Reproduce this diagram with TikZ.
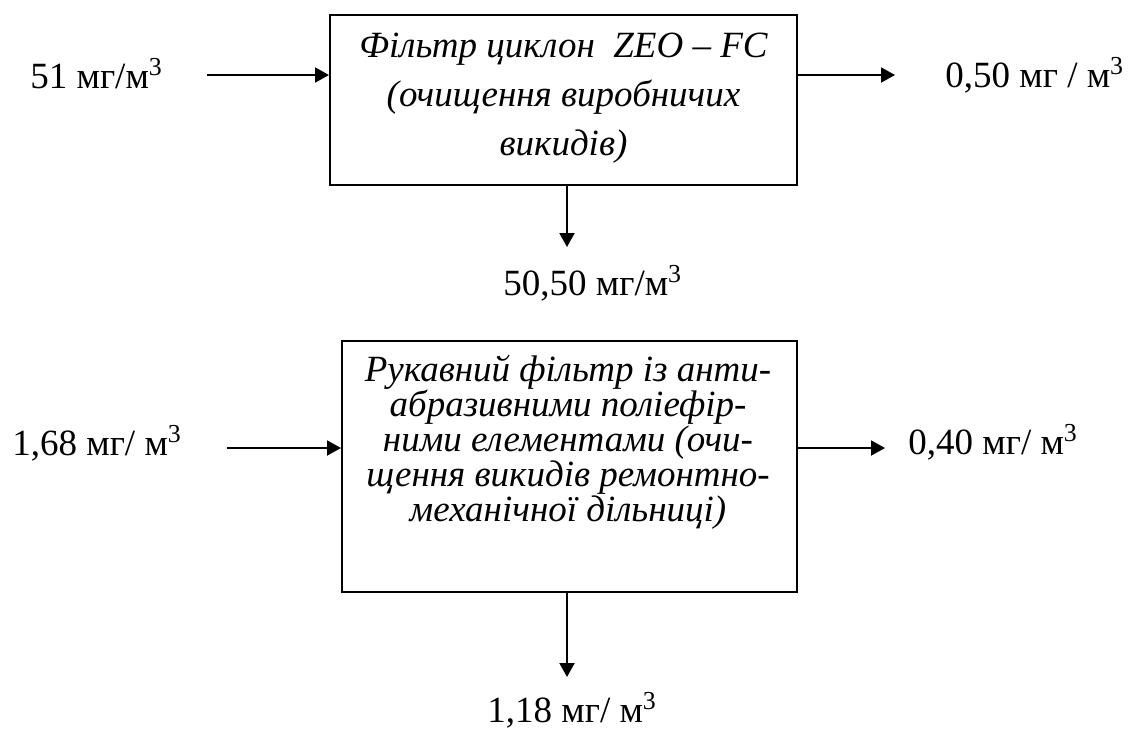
\documentclass[tikz,border=0pt]{standalone}
\usepackage{fontspec}
\setmainfont{Liberation Serif}
\usetikzlibrary{arrows.meta}
\begin{document}
\begin{tikzpicture}[x=0.5pt,y=-0.5pt,
  blockbox/.style={draw, line width=1pt, inner sep=0pt},
  flow/.style={line width=1pt, -{Triangle[length=7pt,width=7.5pt]}},
  lbl/.style={inner sep=0pt, anchor=base west, font=\fontsize{18.5}{22}\selectfont},
  boxtext/.style={inner sep=0pt, align=center, anchor=north}]
\useasboundingbox (0,0) rectangle (1133,728);

% cyclone filter
\node[blockbox, minimum width=233.5pt, minimum height=85pt] (f1) at (563.5,100) {};
\node[boxtext, font=\fontsize{18.5}{24.5}\selectfont\itshape] (t1) at (563.5,33)
  {Фільтр циклон\ \ ZEO – FC\\(очищення виробничих\\викидів)};

% bag filter
\node[blockbox, minimum width=227.5pt, minimum height=125.5pt] (f2) at (569.5,466.5) {};
\node[boxtext, font=\fontsize{18.5}{17.5}\selectfont\itshape] (t2) at (568,355)
  {Рукавний фільтр із анти-\\абразивними поліефір-\\ними елементами (очи-\\щення викидів ремонтно-\\механічної дільниці)};

% free ends of the flows
\coordinate (in1) at (207,75);
\coordinate (out1) at (895,75);
\coordinate (dn1) at (567,247);
\coordinate (in2) at (227,448);
\coordinate (out2) at (885,448);
\coordinate (dn2) at (567,677);

\draw[flow] (in1) -- (in1 -| f1.west);
\draw[flow] (out1 -| f1.east) -- (out1);
\draw[flow] (dn1 |- f1.south) -- (dn1);
\draw[flow] (in2) -- (in2 -| f2.west);
\draw[flow] (out2 -| f2.east) -- (out2);
\draw[flow] (dn2 |- f2.south) -- (dn2);

% concentrations
\node[lbl] (c1) at (30,88) {51 мг/м\textsuperscript{3}};
\node[lbl] (c2) at (945,87) {0,50 мг / м\textsuperscript{3}};
\node[lbl] (c3) at (503,295) {50,50 мг/м\textsuperscript{3}};
\node[lbl] (c4) at (12,455) {1,68 мг/ м\textsuperscript{3}};
\node[lbl] (c5) at (908,454) {0,40 мг/ м\textsuperscript{3}};
\node[lbl] (c6) at (487,722) {1,18 мг/ м\textsuperscript{3}};
\end{tikzpicture}
\end{document}
